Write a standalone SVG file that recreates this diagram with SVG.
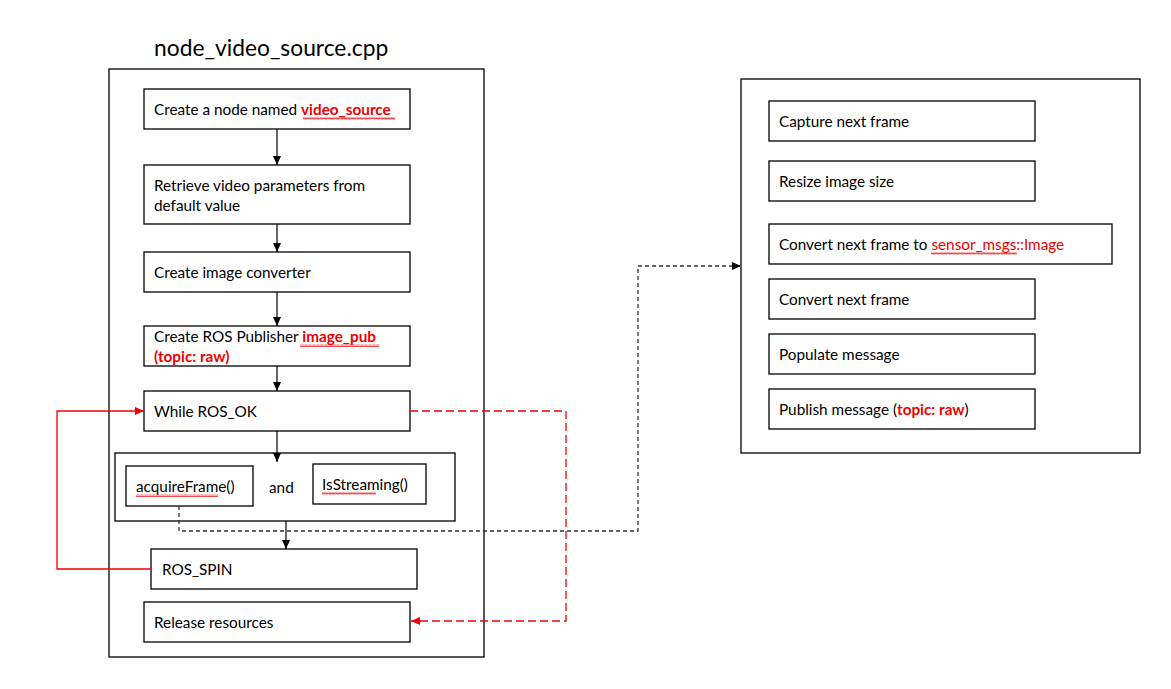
<svg xmlns="http://www.w3.org/2000/svg" width="1171" height="689" viewBox="0 0 1171 689">
<style>
.box{fill:#fff;stroke:#000;stroke-width:1.3}
.frame{fill:none;stroke:#000;stroke-width:1.3}
.t{font-family:Lato,"Liberation Sans",sans-serif;font-size:15.3px;fill:#000}
.r{fill:#f00000;font-weight:bold}
.rn{fill:#f00000}
.ln{fill:none;stroke:#000;stroke-width:1.2}
.red{fill:none;stroke:#f00000;stroke-width:1.3}
.redd{fill:none;stroke:#f00000;stroke-width:1.3;stroke-dasharray:8 4}
.blkd{fill:none;stroke:#303030;stroke-width:1.3;stroke-dasharray:4 3}
</style>
<defs>
<marker id="ab" markerWidth="10" markerHeight="10" refX="9" refY="5" orient="auto" markerUnits="userSpaceOnUse"><path d="M0,1 L9,5 L0,9 Z" fill="#000"/></marker>
<marker id="ar" markerWidth="10" markerHeight="10" refX="9" refY="5" orient="auto" markerUnits="userSpaceOnUse"><path d="M0,1 L9,5 L0,9 Z" fill="#f00000"/></marker>
<pattern id="sq" width="4" height="3" patternUnits="userSpaceOnUse"><polyline points="0,2.5 1,0.5 2,2.5 3,0.5 4,2.5" fill="none" stroke="#f00000" stroke-width="0.7"/></pattern>
</defs>
<rect width="1171" height="689" fill="#fff"/>
<text x="154" y="56" style="font-family:Lato,'Liberation Sans',sans-serif;font-size:22.8px">node_video_source.cpp</text>
<rect class="frame" x="109" y="69" width="375" height="588"/>
<rect class="frame" x="741" y="79" width="399" height="374"/>
<rect class="frame" x="115" y="453" width="340" height="68"/>
<g id="n1"><rect class="box" x="144" y="89" width="266" height="40"/><text class="t" x="154" y="115">Create a node named <tspan class="r">video_source</tspan></text><rect x="303" y="117" width="92" height="3" fill="url(#sq)"/></g>
<g id="n2"><rect class="box" x="144" y="165" width="266" height="59"/><text class="t" x="154" y="191">Retrieve video parameters from</text><text class="t" x="154" y="211">default value</text></g>
<g id="n3"><rect class="box" x="144" y="252" width="266" height="40"/><text class="t" x="154" y="278">Create image converter</text></g>
<g id="n4"><rect class="box" x="144" y="326" width="266" height="40"/><text class="t" x="154" y="342">Create ROS Publisher <tspan class="r">image_pub</tspan></text><text class="t" x="154" y="362"><tspan class="r">(topic: raw)</tspan></text><rect x="300" y="344" width="79" height="3" fill="url(#sq)"/></g>
<g id="n5"><rect class="box" x="144" y="391" width="266" height="40"/><text class="t" x="154" y="417">While ROS_OK</text></g>
<g id="n6"><rect class="box" x="126" y="466" width="127" height="40"/><text class="t" x="136" y="492">acquireFrame()</text><rect x="136" y="494" width="82" height="3" fill="url(#sq)"/></g>
<text class="t" x="269" y="493">and</text>
<g id="n7"><rect class="box" x="313" y="464" width="113" height="40"/><text class="t" x="322" y="490">IsStreaming()</text><rect x="322" y="492" width="54" height="3" fill="url(#sq)"/></g>
<g id="n8"><rect class="box" x="151" y="549" width="266" height="40"/><text class="t" x="162" y="575">ROS_SPIN</text></g>
<g id="n9"><rect class="box" x="144" y="602" width="266" height="40"/><text class="t" x="154" y="628">Release resources</text></g>
<g id="r1"><rect class="box" x="769" y="101" width="266" height="40"/><text class="t" x="779" y="127">Capture next frame</text></g>
<g id="r2"><rect class="box" x="769" y="161" width="266" height="40"/><text class="t" x="779" y="187">Resize image size</text></g>
<g id="r3"><rect class="box" x="769" y="224" width="343" height="40"/><text class="t" x="779" y="250">Convert next frame to <tspan class="rn">sensor_msgs::Image</tspan></text><rect x="931" y="252" width="86" height="3" fill="url(#sq)"/></g>
<g id="r4"><rect class="box" x="769" y="279" width="266" height="40"/><text class="t" x="779" y="305">Convert next frame</text></g>
<g id="r5"><rect class="box" x="769" y="334" width="266" height="40"/><text class="t" x="779" y="360">Populate message</text></g>
<g id="r6"><rect class="box" x="769" y="389" width="266" height="40"/><text class="t" x="779" y="415">Publish message (<tspan class="r">topic: raw</tspan>)</text></g>
<g id="connectors">
<line class="ln" x1="277" y1="129" x2="277" y2="165" marker-end="url(#ab)"/>
<line class="ln" x1="277" y1="224" x2="277" y2="252" marker-end="url(#ab)"/>
<line class="ln" x1="277" y1="292" x2="277" y2="326" marker-end="url(#ab)"/>
<line class="ln" x1="277" y1="366" x2="277" y2="391" marker-end="url(#ab)"/>
<line class="ln" x1="277" y1="431" x2="277" y2="462" marker-end="url(#ab)"/>
<line class="ln" x1="286" y1="521" x2="286" y2="549" marker-end="url(#ab)"/>
<polyline class="red" points="151,569 57,569 57,411 144,411" marker-end="url(#ar)"/>
<polyline class="redd" points="410,411 566,411 566,621 411,621" marker-end="url(#ar)"/>
<polyline class="blkd" points="179,506 179,531 638,531 638,266 741,266" marker-end="url(#ab)"/>
</g>
</svg>
